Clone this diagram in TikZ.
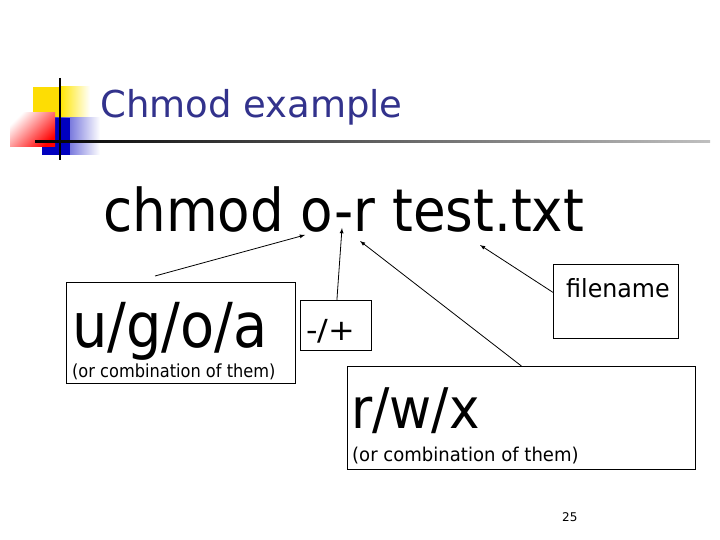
\documentclass[tikz,border=0pt]{standalone}
\usepackage{fontspec}
\setmainfont{DejaVu Sans}
\definecolor{titleblue}{RGB}{50,50,140}
\begin{document}
\begin{tikzpicture}[x=1pt,y=-1pt,
  box/.style={draw,line width=0.8pt},
  arr/.style={-latex,line width=0.8pt},
  txt/.style={inner sep=0pt,anchor=base west}]
\useasboundingbox (0,0) rectangle (720,540);
% logo
\fill[yellow!80!orange] (33,87) rectangle (80,120);
\shade[left color=yellow!80!orange,right color=white] (60,87) rectangle (90,120);
\shade[left color=blue!75!black,right color=white] (42,118) rectangle (100,155);
\fill[blue!75!black] (42,118) rectangle (70,155);
\shade[left color=red,right color=white,shading angle=225] (10,113) rectangle (55,147);
\draw[line width=2pt] (60,78) -- (60,160);
\shade[left color=black,right color=gray!50] (35,141) rectangle (710,143);
\node[txt,text=titleblue,font=\fontsize{37}{40}\selectfont] (title) at (100,118) {Chmod example};
\node[txt,font=\fontsize{59}{60}\selectfont,xscale=0.9] (cmd) at (103,232) {chmod o-r test.txt};
% boxes
\node[box,minimum width=229,minimum height=101,anchor=north west] (ug) at (66,282) {};
\node[txt,font=\fontsize{62}{64}\selectfont,xscale=0.9] (ugt) at (72,347) {u/g/o/a};
\node[txt,font=\fontsize{18}{20}\selectfont,xscale=0.9] (ugs) at (72,377) {(or combination of them)};
\node[box,minimum width=71,minimum height=50,anchor=north west] (pm) at (300,300) {};
\node[txt,font=\fontsize{29}{32}\selectfont,xscale=1.1] (pmt) at (306,340) {-/+};
\node[box,minimum width=125,minimum height=74,anchor=north west] (fn) at (553,264) {};
\node[txt,font=\fontsize{25}{28}\selectfont,xscale=0.95] (fnt) at (566,297) {filename};
\node[box,minimum width=348,minimum height=103,anchor=north west] (rw) at (347,366) {};
\node[txt,font=\fontsize{56}{60}\selectfont,xscale=0.92] (rwt) at (351,428) {r/w/x};
\node[txt,font=\fontsize{19}{20}\selectfont,xscale=0.95] (rws) at (352,461) {(or combination of them)};
\node[txt,font=\fontsize{12}{14}\selectfont] (pg) at (562,521) {25};
% arrows
\coordinate (a1) at (305,235);
\coordinate (a2) at (342,228);
\coordinate (a3) at (360,241);
\coordinate (a4) at (480,245);
\draw[arr] (ug.north west) ++(89,-6) -- (a1);
\draw[arr] (pm.north) ++(1,0) -- (a2);
\draw[arr] (rw.north) -- (a3);
\draw[arr] (fn.west) ++(0,-9) -- (a4);
\end{tikzpicture}
\end{document}
